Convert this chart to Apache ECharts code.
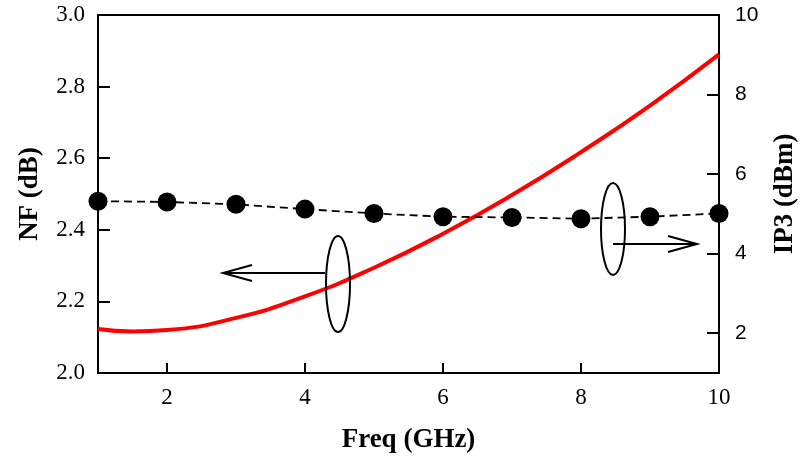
<!DOCTYPE html>
<html>
<head>
<meta charset="utf-8">
<script src="https://cdn.jsdelivr.net/npm/echarts@6/dist/echarts.min.js"></script>
<style>
  html, body { margin: 0; padding: 0; background: #fff; }
  #chart { width: 805px; height: 461px; }
</style>
</head>
<body>
<div id="chart"></div>
<script>
// NF curve (left axis)
const nfFreq = [1, 1.5, 2, 3, 4, 5, 6, 7, 8, 9, 10];
const nfValues = [2.123, 2.116, 2.120, 2.154, 2.214, 2.294, 2.389, 2.497, 2.617, 2.747, 2.890];

// IP3 points (right axis)
const ip3Freq = [1, 2, 3, 4, 5, 6, 7, 8, 9, 10];
const ip3Values = [5.32, 5.30, 5.24, 5.12, 5.01, 4.93, 4.91, 4.88, 4.93, 5.01];

const xTicks = [2, 4, 6, 8, 10];
const ip3Ticks = [2, 4, 6, 8, 10];

const chart = echarts.init(document.getElementById('chart'));

const sans = 'Liberation Sans, Arial, sans-serif';
const serif = 'Liberation Serif, Times New Roman, serif';
const titleStyle = { fontFamily: serif, fontWeight: 'bold', fontSize: 27, color: '#000' };

chart.setOption({
    animation: false,
    grid: {
        left: 98, right: 86, top: 15, bottom: 88,
        outerBoundsMode: 'none',
        show: true, borderColor: '#000', borderWidth: 2,
        backgroundColor: 'transparent'
    },
    xAxis: {
        type: 'value',
        min: 1, max: 10,
        name: 'Freq (GHz)',
        nameLocation: 'middle',
        nameGap: 54,
        nameTextStyle: titleStyle,
        axisLine: { show: true, lineStyle: { color: '#000', width: 2 } },
        axisTick: { show: true, inside: true, length: 10, customValues: xTicks, lineStyle: { color: '#000', width: 2 } },
        axisLabel: { customValues: xTicks, margin: 13, fontFamily: serif, fontSize: 23, color: '#000' },
        splitLine: { show: false }
    },
    yAxis: [
        {
            type: 'value',
            min: 2, max: 3, interval: 0.2,
            name: 'NF (dB)',
            nameLocation: 'middle',
            nameGap: 54,
            nameTextStyle: titleStyle,
            axisLine: { show: true, lineStyle: { color: '#000', width: 2 } },
            axisTick: { show: true, inside: true, length: 12, lineStyle: { color: '#000', width: 2 } },
            axisLabel: { margin: 13, fontFamily: serif, fontSize: 23, color: '#000', formatter: v => v.toFixed(1) },
            splitLine: { show: false }
        },
        {
            type: 'value',
            position: 'right',
            min: 1, max: 10,
            name: 'IP3 (dBm)',
            nameLocation: 'middle',
            nameGap: 53,
            nameRotate: 90,
            nameTextStyle: titleStyle,
            axisLine: { show: true, lineStyle: { color: '#000', width: 2 } },
            axisTick: { show: true, inside: true, length: 12, customValues: ip3Ticks, lineStyle: { color: '#000', width: 2 } },
            axisLabel: { customValues: ip3Ticks, margin: 16, fontFamily: sans, fontSize: 21, color: '#000' },
            splitLine: { show: false }
        }
    ],
    series: [
        {
            name: 'NF',
            type: 'line',
            yAxisIndex: 0,
            smooth: true,
            showSymbol: false,
            lineStyle: { color: '#ff0000', width: 4 },
            data: nfFreq.map((f, i) => [f, nfValues[i]]),
            z: 3
        },
        {
            name: 'IP3',
            type: 'line',
            yAxisIndex: 1,
            symbol: 'circle',
            symbolSize: 19,
            itemStyle: { color: '#000' },
            lineStyle: { color: '#000', width: 1.8, type: [8, 5] },
            data: ip3Freq.map((f, i) => [f, ip3Values[i]]),
            z: 4
        }
    ],
    graphic: [
        // ellipse + arrow for NF (points left)
        { type: 'ellipse', shape: { cx: 338, cy: 284, rx: 12, ry: 48 }, style: { fill: 'none', stroke: '#000', lineWidth: 2 }, z: 10 },
        { type: 'line', shape: { x1: 325, y1: 273, x2: 223, y2: 273 }, style: { stroke: '#000', lineWidth: 2 }, z: 10 },
        { type: 'polyline', shape: { points: [[252, 265], [223, 273], [252, 281]] }, style: { fill: 'none', stroke: '#000', lineWidth: 2 }, z: 10 },
        // ellipse + arrow for IP3 (points right)
        { type: 'ellipse', shape: { cx: 613, cy: 229, rx: 12, ry: 46 }, style: { fill: 'none', stroke: '#000', lineWidth: 2 }, z: 10 },
        { type: 'line', shape: { x1: 613, y1: 244, x2: 697, y2: 244 }, style: { stroke: '#000', lineWidth: 2 }, z: 10 },
        { type: 'polyline', shape: { points: [[668, 236], [697, 244], [668, 252]] }, style: { fill: 'none', stroke: '#000', lineWidth: 2 }, z: 10 }
    ]
});
</script>
</body>
</html>
